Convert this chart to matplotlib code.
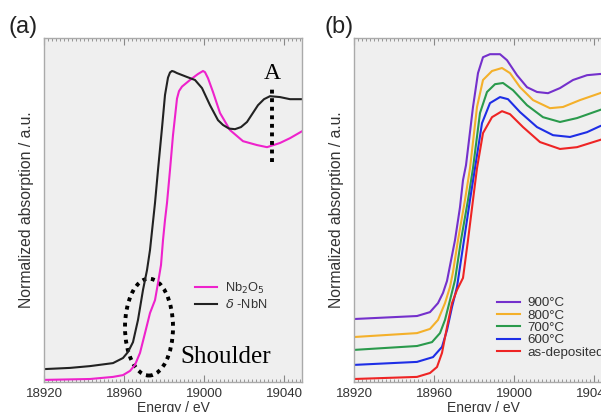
import matplotlib
matplotlib.use("Agg")
import matplotlib.pyplot as plt
from matplotlib.patches import Ellipse
from matplotlib.ticker import MultipleLocator

# ---------------- data (panel a) ----------------
nbn_E = [18920, 18933, 18943, 18954.5, 18959.5, 18962, 18964.5, 18967, 18969.5, 18971.5,
         18973, 18975.5, 18977, 18979, 18980.5, 18982, 18983, 18984, 18985, 18986.5,
         18991.5, 18995.5, 18999, 19003, 19007, 19009.5, 19012.5, 19015.5, 19018.5, 19021.5,
         19027, 19030, 19033, 19038, 19043, 19049]
nbn_A = [0.043, 0.047, 0.053, 0.063, 0.080, 0.100, 0.133, 0.207, 0.307, 0.373,
         0.440, 0.597, 0.707, 0.847, 0.957, 1.015, 1.032, 1.037, 1.035, 1.030,
         1.017, 1.007, 0.980, 0.923, 0.873, 0.857, 0.845, 0.843, 0.850, 0.867,
         0.923, 0.943, 0.953, 0.950, 0.943, 0.943]

nb2o5_E = [18920, 18943, 18954.5, 18959.5, 18963, 18965.5, 18968, 18970.5, 18973, 18975.5,
           18977, 18978.5, 18979.5, 18980.5, 18981.5, 18983, 18984.5, 18986.5, 18987.5, 18989,
           18993, 18997, 18999.5, 19000.5, 19002, 19004.5, 19008, 19013, 19019.5, 19026.5,
           19031.5, 19038, 19043, 19049]
nb2o5_A = [0.007, 0.010, 0.017, 0.023, 0.037, 0.057, 0.097, 0.163, 0.230, 0.273,
           0.330, 0.390, 0.473, 0.540, 0.597, 0.707, 0.823, 0.945, 0.970, 0.985,
           1.007, 1.027, 1.037, 1.033, 1.013, 0.967, 0.897, 0.840, 0.803, 0.790,
           0.783, 0.797, 0.813, 0.836]

marker_A_E = 19034
marker_A_range = [0.733, 0.980]

shoulder_center = (18972.5, 0.183)
shoulder_size = (24, 0.323)

# ---------------- data (panel b) ----------------
t900_E = [18920, 18951.5, 18958, 18962, 18964.5, 18966.5, 18970.5, 18973, 18974.5, 18976,
          18979.5, 18982, 18984.5, 18988, 18993, 18996.5, 19001.5, 19006.5, 19011.5, 19017,
          19023, 19029.5, 19036.5, 19043, 19050]
t900_A = [0.210, 0.220, 0.233, 0.263, 0.297, 0.337, 0.473, 0.583, 0.673, 0.723,
          0.917, 1.030, 1.083, 1.093, 1.093, 1.073, 1.023, 0.983, 0.967, 0.963,
          0.980, 1.007, 1.023, 1.027, 1.027]

t800_E = [18920, 18951.5, 18958, 18962, 18965.5, 18968, 18969.5, 18972, 18975.5, 18978,
          18981.5, 18984.5, 18989, 18994, 18998, 19003, 19009.5, 19018, 19024.5, 19033,
          19043, 19050]
t800_A = [0.150, 0.163, 0.177, 0.207, 0.263, 0.317, 0.367, 0.473, 0.607, 0.713,
          0.917, 1.007, 1.037, 1.047, 1.030, 0.983, 0.940, 0.913, 0.917, 0.940,
          0.963, 0.980]

t700_E = [18920, 18951.5, 18959, 18963, 18965.5, 18968, 18970.5, 18973.5, 18977, 18979.5,
          18983, 18986.5, 18990.5, 18994.5, 18999.5, 19006.5, 19014.5, 19023, 19031.5, 19043,
          19050]
t700_A = [0.107, 0.120, 0.133, 0.163, 0.207, 0.273, 0.340, 0.473, 0.607, 0.713,
          0.897, 0.967, 0.993, 0.997, 0.973, 0.923, 0.883, 0.867, 0.880, 0.907,
          0.923]

t600_E = [18920, 18951.5, 18959.5, 18964, 18966.5, 18969, 18971.5, 18975, 18978, 18980.5,
          18984, 18988, 18993, 18997, 19003, 19011.5, 19019.5, 19028, 19036.5, 19043,
          19050]
t600_A = [0.057, 0.067, 0.083, 0.117, 0.173, 0.250, 0.317, 0.473, 0.607, 0.713,
          0.863, 0.930, 0.950, 0.943, 0.900, 0.850, 0.823, 0.817, 0.833, 0.853,
          0.870]

asdep_E = [18920, 18951.5, 18958, 18961.5, 18964, 18966.5, 18969, 18971.5, 18974.5, 18977,
           18979.5, 18981.5, 18984.5, 18989, 18994, 18998, 19004.5, 19013, 19023, 19031.5,
           19043, 19050]
asdep_A = [0.010, 0.017, 0.030, 0.050, 0.097, 0.183, 0.263, 0.307, 0.347, 0.473,
           0.607, 0.713, 0.830, 0.883, 0.903, 0.893, 0.850, 0.800, 0.777, 0.783,
           0.807, 0.823]

labels_b = ["900°C", "800°C", "700°C", "600°C", "as-deposited"]
colors_b = ["#7430cc", "#f4b02a", "#2a9a4c", "#1e2ee6", "#ee2424"]
series_b = [(t900_E, t900_A), (t800_E, t800_A), (t700_E, t700_A),
            (t600_E, t600_A), (asdep_E, asdep_A)]

xticks = [18920, 18960, 19000, 19040]
xlim = (18920, 19049)
ylim = (0, 1.147)

# ---------------- figure ----------------
plt.rcParams['font.family'] = ['Liberation Sans', 'DejaVu Sans']
fig = plt.figure(figsize=(6.01, 4.12), dpi=100)
W, H = 601, 412
ax_a = fig.add_axes([44 / W, 30 / H, 258 / W, 344 / H])
ax_b = fig.add_axes([354 / W, 30 / H, 258 / W, 344 / H])


def style(ax):
    ax.set_facecolor("#efefef")
    ax.set_xlim(*xlim)
    ax.set_ylim(*ylim)
    ax.set_xticks(xticks)
    ax.xaxis.set_minor_locator(MultipleLocator(2))
    ax.set_yticks([])
    ax.tick_params(axis='x', which='both', direction='in', top=True, bottom=True,
                   colors="#888888", labelcolor="#333333", labelsize=9.5, pad=4)
    ax.tick_params(axis='x', which='major', length=5, width=0.8)
    ax.tick_params(axis='x', which='minor', length=2.5, width=0.6)
    for s in ax.spines.values():
        s.set_color("#aaaaaa")
        s.set_linewidth(1.0)
    ax.set_xlabel("Energy / eV", fontsize=10, color="#333333", labelpad=1)
    ax.set_ylabel("Normalized absorption / a.u.", fontsize=11.3, color="#333333", labelpad=7)


style(ax_a)
style(ax_b)

# panel a
ax_a.plot(nb2o5_E, nb2o5_A, color="#ee22cc", lw=1.5, label="Nb$_2$O$_5$")
ax_a.plot(nbn_E, nbn_A, color="#222222", lw=1.5, label="$\\delta$ -NbN")
ax_a.plot([marker_A_E, marker_A_E], marker_A_range, color="black", lw=2.8,
          linestyle=(0, (1, 1.2)))
ax_a.text(marker_A_E, 0.995, "A", family="Liberation Serif", fontsize=17,
          ha="center", va="bottom", color="black")
ax_a.add_patch(Ellipse(shoulder_center, shoulder_size[0], shoulder_size[1],
                       fill=False, edgecolor="black", lw=2.8, linestyle=(0, (1, 1.2))))
ax_a.text(18988, 0.063, "Shoulder", family="Liberation Serif", fontsize=18,
          ha="left", va="baseline", color="black")
leg_a = ax_a.legend(loc="center left", bbox_to_anchor=(0.585, 0.25), frameon=False,
                    fontsize=9.3, handlelength=1.7, handletextpad=0.6, labelspacing=0.2,
                    borderpad=0, borderaxespad=0)
for t in leg_a.get_texts():
    t.set_color("#333333")

# panel b
for (E, A), lab, col in zip(series_b, labels_b, colors_b):
    ax_b.plot(E, A, color=col, lw=1.5, label=lab)
leg_b = ax_b.legend(loc="center left", bbox_to_anchor=(0.553, 0.157), frameon=False,
                    fontsize=9.6, handlelength=1.75, handletextpad=0.55, labelspacing=0.0,
                    borderpad=0, borderaxespad=0)
for t in leg_b.get_texts():
    t.set_color("#333333")

fig.text(8 / W, 1 - 27 / H, "(a)", fontsize=17, va="center", ha="left", color="#222222")
fig.text(324 / W, 1 - 27 / H, "(b)", fontsize=17, va="center", ha="left", color="#222222")

fig.savefig("out.png", dpi=100)
